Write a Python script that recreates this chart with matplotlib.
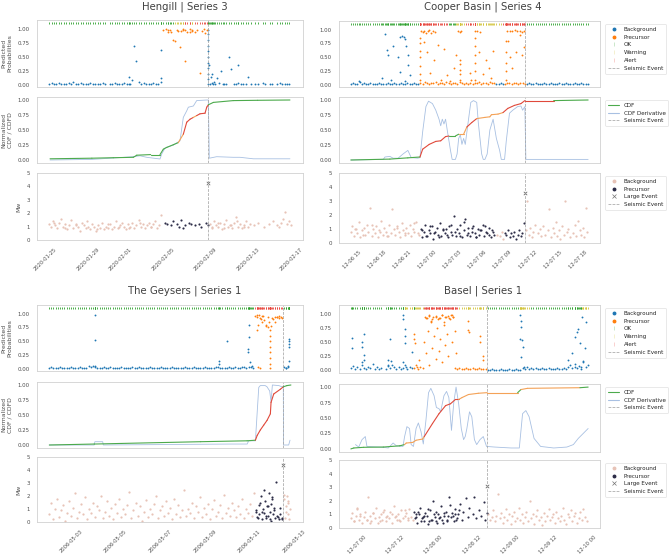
import numpy as np
import matplotlib
matplotlib.use("Agg")
import matplotlib.pyplot as plt
import matplotlib.dates as mdates
from matplotlib.lines import Line2D
import seaborn as sns

nan = np.nan

# ---------------- Hengill | Series 3  (offsets in days)
hen_origin = "2020-01-25T09:00"
hen_event = 14.89
hen_big = 4.25
hen_pre = [(10.6, 14.89)]
hen_state_t = [0, 11.8, 12.55, 13.3, 13.6, 14.89]
hen_state = ["OK", "Warning", "Alert", "Warning", "Alert", "OK"]
hen_prob_step = 0.227
hen_prob = [0.02, 0.03, 0.02, 0.02, 0.03, 0.02, 0.02, 0.02, 0.03, 0.02,
            0.06, 0.02, 0.02, 0.03, 0.02, 0.02, 0.02, 0.03, 0.02, 0.02,
            0.02, 0.02, 0.03, 0.02, nan, 0.02, 0.02, 0.03, 0.02, 0.02,
            0.02, 0.03, 0.02, 0.15, 0.09, 0.69, 0.42, 0.05, 0.02, 0.03,
            0.02, 0.02, 0.02, 0.03, 0.02, 0.02, 0.12, 0.98, 1.00, 0.95,
            0.97, 0.80, 0.78, 0.96, 0.67, 0.98, 0.43, 0.94, 0.99, 0.96,
            0.95, 0.98, 0.21, 0.96, 0.99, 0.97, 0.35, 0.20, 0.05, 0.12,
            0.03, 0.25, 0.02, 0.02, 0.49, 0.28, 0.02, 0.02, 0.03, 0.02,
            0.02, 0.02, 0.15, 0.02, nan, 0.02, 0.02, nan, 0.03, 0.02,
            nan, 0.02, 0.02, nan, 0.02, 0.03, 0.02, 0.02, 0.02, 0.02]
hen_out_t = [7.5, 7.6, 10.45, 10.5, 11.1, 11.4, 12.0, 12.3, 12.5, 12.7, 13.2, 13.4,
             14.6, 15.0, 15.1, 15.2, 15.35, 15.5, 16.3, 17.7]
hen_out_p = [0.02, 0.02, 0.05, 0.62, 0.97, 0.95, 0.98, 0.96, 0.99, 0.97, 0.95, 0.98,
             0.93, 0.02, 0.15, 0.03, 0.02, 0.02, 0.02, 0.36]
hen_col = [0.02, 0.1, 0.2, 0.3, 0.4, 0.5, 0.6, 0.7, 0.8, 0.9, 0.97]
hen_cdf_t = [0.09, 2.0, 4.0, 6.0, 7.88, 8.2, 9.5, 10.37, 10.68, 11.0, 11.62, 12.08, 12.55,
             12.87, 13.18, 13.49, 13.8, 14.11, 14.58, 14.74, 14.89, 15.36, 17.22, 19.5, 22.52]
hen_cdf = [0.02, 0.025, 0.03, 0.038, 0.045, 0.08, 0.09, 0.09, 0.18, 0.21, 0.255, 0.29, 0.43,
           0.63, 0.68, 0.71, 0.74, 0.77, 0.78, 0.88, 0.92, 0.96, 0.99, 0.995, 1.0]
hen_der_t = [0.09, 4.0, 7.88, 8.5, 9.13, 10.37, 10.53, 10.84, 11.62, 12.24, 12.55, 12.87,
             13.02, 13.49, 13.8, 14.74, 14.89, 14.98, 15.67, 17.22, 17.85, 19.1, 22.52]
hen_der = [0.0, 0.01, 0.055, 0.07, 0.045, 0.017, 0.1, 0.2, 0.25, 0.32, 0.71, 0.82,
           0.88, 0.9, 0.99, 1.0, 1.0, 0.03, 0.055, 0.045, 0.045, 0.02, 0.02]
hen_mw_step = 0.19
hen_mw = [1.2, 1.0, 1.4, 1.1, 0.9, 1.3, 1.6, 1.0, 1.2, 0.8,
          1.1, 1.5, 0.9, 1.2, 1.0, 0.7, 1.3, 1.1, 0.9, 1.0,
          0.8, 1.2, 1.0, 0.7, 1.1, 0.9, 1.3, 0.8, 1.0, 0.9,
          1.2, 0.8, 1.0, 1.4, 0.9, 1.1, 1.3, 1.0, 0.8, 1.2,
          1.0, 1.3, 0.9, 1.1, 1.5, 1.0, 1.2, 0.9, 1.1, 1.3,
          1.0, 1.2, 1.4, 0.9, 1.1,
          1.9, nan, 1.3, 1.2, nan, 1.1, 1.4, nan, 1.2, 1.0, 1.5, 0.9, 1.1, nan, 1.3, 1.2,
          nan, 1.1, nan, 1.2, 1.0, nan, 1.3, 1.1,
          1.2, 0.9, 1.4, 1.1, 1.0, 1.3, 0.8, 1.2, 1.5, 1.0, 1.1, 0.9, 1.3, 1.7, 1.0, 1.2,
          0.9, 1.1, 1.4, 1.0, 1.2,
          nan, 1.1, nan, 1.3, nan, nan, 1.0, nan, 1.2, nan, 1.4, nan, 1.1,
          1.0, 1.3, 1.6, 2.1, 1.2, 1.4, 1.1]
hen_mw_out_t = [0.5, 1.5, 2.5, 3.5, 4.5, 5.5, 6.5, 7.5, 8.5, 9.5, 15.2, 15.8, 16.4, 17.0, 17.6, 18.2]
hen_mw_out = [1.3, 0.9, 1.1, 1.4, 0.8, 1.2, 1.0, 0.9, 1.3, 1.0, 1.0, 1.3, 0.9, 1.1, 1.4, 1.0]

# ---------------- Cooper Basin | Series 4  (offsets in hours)
cb_origin = "2012-12-06T14:50"
cb_event = 20.85
cb_big = 3.6
cb_pre = [(8.2, 17.2), (18.3, 20.85)]
cb_state_t = [0, 8.27, 11.6, 12.6, 13.6, 15.0, 18.2, 20.85]
cb_state = ["OK", "Alert", "OK", "Warning", "Alert", "Warning", "Alert", "OK"]
cb_prob_step = 0.26
cb_prob = [0.02, 0.03, 0.02, 0.02, 0.05, 0.02, 0.03, 0.02, 0.02, 0.03, 0.02, 0.02, 0.02, 0.03,
           0.02, 0.02, 0.02, 0.03, 0.02, 0.02, 0.03, 0.02, 0.02, 0.03, 0.02, 0.02, 0.03, 0.02,
           0.02, 0.03, 0.02, 0.02,
           0.04, 0.02, 0.05, 0.03, 0.02, 0.04, 0.03, 0.05, 0.02, 0.03, 0.04, 0.02, 0.05, 0.03,
           0.02, 0.04, 0.03, 0.02, 0.05, 0.03,
           0.02, 0.03, 0.02, 0.04, 0.02, 0.03,
           0.03, 0.05, 0.02, 0.04, 0.03, 0.02, 0.05, 0.03, 0.04,
           0.02, 0.02, 0.03, 0.02, 0.02, 0.03,
           0.03, 0.02, 0.04, 0.03, 0.02, 0.03, 0.04, 0.02,
           0.02, 0.03, 0.02, 0.02, 0.03, 0.02, 0.02, 0.02, 0.03, 0.02, 0.02, 0.03, 0.02, 0.02,
           0.02, 0.03, 0.02, 0.02, 0.03, 0.02, 0.02, 0.02, 0.03, 0.02, 0.02, 0.03, 0.02, 0.02, 0.02]
cb_out_t = [0.94, 3.69, 4.08, 4.27, 4.47, 4.86, 5.06, 5.65, 5.84, 5.84, 6.12, 6.31, 6.51, 6.63,
            6.82, 6.82, 7.02, 6.43,
            8.3, 8.3, 8.3, 8.3, 8.3, 8.3, 8.3, 8.4, 8.6, 8.8, 9.0, 9.2, 9.4, 9.6, 9.8, 10.1,
            8.7, 9.1, 9.5, 9.9, 10.4, 10.8, 11.2, 11.5, 11.9, 12.3, 12.6, 12.8, 13.0, 13.2,
            13.0, 13.0, 13.0, 13.0, 13.0,
            14.9, 15.1, 15.4, 14.9, 14.9, 14.9, 14.9, 14.9, 14.9, 15.3, 15.8, 16.2, 16.5, 16.8,
            17.0, 14.2, 14.4,
            18.6, 18.6, 18.6, 18.6, 18.6, 18.7, 19.0, 19.3, 19.6, 19.9, 20.2, 20.5, 20.7, 18.8,
            19.0, 19.3, 19.8, 20.2, 20.5, 20.7]
cb_out_p = [0.08, 0.12, 0.92, 0.64, 0.54, 0.09, 0.71, 0.5, 0.86, 0.24, 0.89, 0.86, 0.83, 0.71,
            0.54, 0.36, 0.18, 0.07,
            0.1, 0.2, 0.35, 0.5, 0.62, 0.75, 0.85, 0.97, 0.95, 0.98, 0.93, 0.97, 0.99, 0.94, 0.97, 0.95,
            0.77, 0.6, 0.22, 0.45, 0.72, 0.1, 0.65, 0.18, 0.08, 0.3, 0.55, 0.98, 0.95, 0.97,
            0.1, 0.2, 0.28, 0.38, 0.45,
            0.97, 0.98, 0.96, 0.1, 0.25, 0.4, 0.55, 0.7, 0.85, 0.6, 0.2, 0.45, 0.3, 0.12,
            0.62, 0.22, 0.1,
            0.1, 0.25, 0.4, 0.6, 0.8, 0.97, 0.98, 0.97, 0.99, 0.97, 0.98, 0.96, 0.98, 0.8,
            0.5, 0.3, 0.6, 0.9, 0.55, 0.68]
cb_col = []
cb_cdf_t = [0.0, 4.67, 6.82, 8.27, 8.59, 9.37, 10.16, 10.75, 11.33, 11.73, 12.51, 12.9, 13.49,
            13.88, 14.47, 15.06, 16.04, 16.63, 16.82, 17.61, 18.2, 18.78, 19.57, 20.35, 20.82,
            24.27, 28.39]
cb_cdf = [0.0, 0.015, 0.036, 0.05, 0.18, 0.26, 0.31, 0.32, 0.39, 0.40, 0.40, 0.43, 0.43,
          0.55, 0.625, 0.69, 0.71, 0.72, 0.755, 0.765, 0.79, 0.86, 0.91, 0.94, 0.99,
          0.99, 1.0]
cb_der_t = [0.0, 3.88, 4.08, 4.67, 5.06, 5.65, 6.24, 6.82, 7.22, 8.0, 8.27, 8.59, 8.98, 9.29,
            9.76, 10.16, 10.55, 10.75, 10.94, 11.14, 11.33, 11.53, 11.92, 12.12, 12.51, 12.71,
            12.9, 13.1, 13.29, 13.49, 13.69, 14.08, 14.35, 14.67, 15.06, 15.25, 15.65, 15.84,
            16.04, 16.31, 16.63, 17.02, 17.41, 17.8, 18.0, 18.39, 18.59, 18.98, 19.37, 19.96,
            20.35, 20.55, 20.82, 20.94, 28.39]
cb_der = [0.0, 0.01, 0.05, 0.06, 0.03, 0.03, 0.10, 0.16, 0.04, 0.03, 0.04, 0.47, 0.89, 0.98,
          0.94, 0.83, 0.68, 0.57, 0.68, 0.60, 0.68, 0.50, 0.16, 0.01, 0.01, 0.10,
          0.36, 0.42, 0.26, 0.36, 0.26, 0.68, 0.96, 0.99, 0.96, 0.62, 0.10, 0.01,
          0.01, 0.10, 0.50, 0.68, 0.36, 0.16, 0.01, 0.01, 0.31, 0.78, 0.83, 0.89,
          0.90, 0.83, 0.89, 0.01, 0.01]
cb_mw_step = 0.19
cb_mw = [0.8, 1.2, 0.5, 1.0, 0.7, 1.5, 0.4, 0.9, 1.1, 0.6, 1.3, 0.8, 2.5, 0.5, 1.0, 0.7, 1.2,
         0.4, 0.9, 1.6, 0.6, 1.1, 0.8, 0.5, 1.3, 0.7, 2.4, 1.0, 0.6, 1.2, 0.8, 0.4, 1.4, 0.9,
         0.6, 1.1, 0.7, 1.3, 0.5, 1.0, 0.8, 1.5, 0.7,
         0.6, 1.0, 0.4, 0.8, 1.3, 0.5, 0.9, 0.7, 1.2, 0.3, 0.8, 1.1, 0.6, 1.4, 0.5, 0.9, 0.7,
         1.0, 0.4, 1.2, 0.8, 0.6, 1.9, 0.5, 1.0, 0.7, 1.3, 0.4, 0.9, 1.7, 0.6, 1.1, 0.5, 0.8,
         1.2, 0.7, 0.4, 1.0, 0.6, 0.9, 1.3, 0.5, 0.8, 0.7, 1.1, 0.4, 0.9, 0.6,
         nan, 0.6, nan,
         0.5, 0.8, 0.3, 0.7, 0.6, 0.9, 0.4, 0.7, 0.5, 0.8, 0.3, 0.6, 0.9, 0.5, 0.7,
         1.4, 0.9, 3.0, 0.6, 1.1, 0.4, 0.8, 1.3, nan, 0.7, 1.0, 0.5, 1.2, 0.6, nan, 0.9, 2.4,
         0.4, 1.1, 0.7, 1.5, 0.5, 0.9, 0.3, 1.2, 0.6, 3.0, 0.8, 1.0, 0.4, nan, 0.7, 1.3, 0.5,
         1.6, 0.9, 0.6, 1.1, 0.4, 2.5, 0.8]
cb_mw_out_t = [8.5, 9.0, 9.5, 10.0, 10.5, 11.0, 11.5, 12.0, 12.5, 13.0, 13.5, 14.0, 14.5, 15.0,
               15.5, 16.0, 16.5, 17.0, 0.5, 1.5, 2.5, 3.5, 4.5, 5.5, 6.5, 7.5]
cb_mw_out = [0.9, 0.5, 1.2, 0.7, 0.4, 1.0, 0.6, 1.3, 0.8, 0.5, 1.5, 0.7, 1.1, 0.4,
             0.9, 1.2, 0.6, 0.8, 1.0, 0.6, 1.3, 0.8, 0.5, 1.1, 0.7, 1.4]

# ---------------- The Geysers | Series 1  (offsets in days)
gy_origin = "2006-05-02T00:30"
gy_event = 10.49
gy_big = 4.4
gy_pre = [(9.2, 10.49)]
gy_state_t = [0, 9.2, 10.49]
gy_state = ["OK", "Alert", "OK"]
gy_prob_step = 0.0982
gy_prob = [0.02, 0.03, 0.02, 0.02, 0.02, 0.03, 0.02, 0.02, 0.02, 0.02,
           0.03, 0.02, 0.02, 0.02, 0.03, 0.02, 0.02, 0.02, 0.06, 0.04,
           0.05, 0.03, 0.02, 0.02, 0.02, 0.03, 0.02, 0.02, 0.03, 0.02,
           0.02, 0.02, 0.02, 0.03, 0.02, 0.02, 0.02, 0.02, 0.03, 0.02,
           0.02, 0.03, 0.02, 0.02, 0.02, 0.02, 0.03, 0.02, 0.02, 0.02,
           0.02, 0.03, 0.02, 0.02, 0.02, 0.02, 0.03, 0.02, 0.02, 0.02,
           0.02, 0.02, 0.03, 0.02, 0.02, 0.02, 0.03, 0.02, 0.02, 0.02,
           0.02, 0.03, 0.02, 0.02, 0.02, 0.02, 0.03, 0.04, 0.02, 0.02,
           0.02, 0.02, 0.03, 0.02, 0.02, 0.03, 0.02, 0.02, 0.04, 0.03,
           0.02, 0.03, 0.04, 0.02,
           0.95, 0.97, 0.92, 0.96, 0.88, 0.80, 0.93, 0.78, 0.90, 0.85, 0.93, 0.95, 0.92,
           0.03, 0.02, 0.05]
gy_out_t = [2.05, 2.05, 2.05, 7.6, 7.6, 7.98, 8.94, 8.94, 8.92, 8.92, 9.01, 9.09,
            9.3, 9.4, 9.5, 9.6, 9.35, 9.3, 9.55, 9.7, 9.8, 9.85, 9.9, 9.91, 9.91, 9.91, 9.91,
            9.91, 9.91, 9.91, 9.98, 10.1, 10.2, 10.3, 10.4, 9.35, 9.45,
            10.76, 10.76, 10.76, 10.76, 10.76, 10.6, 10.7]
gy_out_p = [0.97, 0.53, 0.06, 0.15, 0.1, 0.5, 0.79, 0.58, 0.36, 0.3, 0.12, 0.05,
            0.93, 0.97, 0.9, 0.95, 0.8, 0.7, 0.85, 0.78, 0.75, 0.85, 0.7, 0.02, 0.1, 0.2, 0.3,
            0.4, 0.5, 0.6, 0.92, 0.93, 0.93, 0.92, 0.93, 0.03, 0.02,
            0.4, 0.45, 0.5, 0.55, 0.15, 0.02, 0.04]
gy_col = []
gy_cdf_t = [0.01, 2.02, 6.79, 8.87, 9.24, 9.32, 9.46, 9.61, 9.76, 9.91, 9.94, 10.06, 10.36,
            10.49, 10.65, 10.83]
gy_cdf = [0.0, 0.016, 0.055, 0.07, 0.08, 0.16, 0.25, 0.33, 0.41, 0.52, 0.71, 0.85, 0.93,
          0.97, 0.99, 1.0]
gy_der_t = [0.01, 2.02, 2.05, 2.4, 2.43, 8.13, 8.87, 8.94, 9.24, 9.39, 9.46, 9.68, 9.76, 9.88,
            9.94, 10.0, 10.29, 10.43, 10.49, 10.5, 10.73, 10.79]
gy_der = [0.0, 0.0, 0.055, 0.055, 0.0, 0.016, 0.016, 0.07, 0.07, 0.96, 0.99, 0.99, 0.97, 0.9,
          0.72, 1.0, 0.99, 0.97, 0.97, 0.0, 0.0, 0.08]
gy_mw_step = 0.09
gy_mw = [0.6, 1.5, 0.2, 1.0, 1.8, 0.4, 0.9, 1.3, 0.1, 0.7,
         1.6, 0.5, 1.1, 2.2, 0.3, 0.8, 1.4, 0.6, 1.9, 0.2,
         1.0, 0.7, 1.5, 0.4, 1.2, 0.9, 2.0, 0.3, 0.8, 1.6,
         0.5, 1.1, 0.2, 1.4, 0.7, 1.8, 0.4, 1.0, 0.6, 1.3,
         2.3, 0.3, 0.9, 1.5, 0.5, 1.2, 0.1, 0.8, 1.7, 0.4,
         1.0, 0.6, 1.4, 2.0, 0.3, 0.9, 1.2, 0.5, 1.6, 0.7,
         1.1, 0.2, 1.8, 0.6, 1.3, 0.4, 0.9, 2.5, 0.5, 1.0,
         0.7, 1.5, 0.3, 1.2, 0.8, 1.9, 0.4, 1.1, 0.6, 1.4,
         0.2, 1.0, 1.7, 0.5, 0.8, 1.3, 0.3, 2.1, 0.7, 1.1,
         0.5, 1.5, 0.9, 0.4, 1.2, 0.6, 1.8, 0.3, 1.0, 0.7,
         1.4, 0.5, 2.2, 0.8,
         0.3, 1.5, 0.8, 2.5, 0.5, 1.2, 0.2, 1.8, 0.9, 3.1, 0.4, 1.1, 0.2,
         2.1, 0.8, 1.5]
gy_mw_out_t = [9.28, 9.33, 9.38, 9.42, 9.47, 9.52, 9.56, 9.61, 9.65, 9.7, 9.74, 9.79, 9.83, 9.88,
               9.92, 9.95, 9.98, 10.02, 10.06, 10.12, 10.2, 10.28, 10.35, 10.42,
               10.52, 10.56, 10.6, 10.64, 10.68, 10.72, 10.76, 10.8]
gy_mw_out = [0.9, 0.4, 1.3, 0.6, 2.0, 0.2, 1.0, 0.7, 1.6, 0.3, 1.2, 0.5, 2.2, 0.8,
             1.4, 0.1, 1.9, 0.6, 1.1, 0.3, 0.5, 0.2, 0.6, 0.3,
             1.8, 0.3, 1.2, 2.0, 0.6, 1.6, 0.2, 1.0]

# ---------------- Basel | Series 1  (offsets in hours)
bs_origin = "2006-12-06T22:10"
bs_event = 42.7
bs_big = 3.1
bs_pre = [(19.4, 42.7)]
bs_state_t = [0, 16.5, 19.4, 20.2, 22.7, 33.5, 42.7, 52.7, 55.8, 72.2]
bs_state = ["OK", "Warning", "OK", "Warning", "Alert", "Warning", "OK", "Warning", "OK", "Warning"]
bs_prob_step = 0.68
bs_prob = [0.04, 0.08, 0.02, 0.06, 0.03, 0.1, 0.05, 0.02, 0.07, 0.04, 0.12, 0.03, 0.06, 0.02,
           0.05, nan, 0.03, 0.08, 0.04, 0.1, 0.06, 0.03, 0.07, 0.02, 0.05, 0.09, 0.03, 0.06, 0.04,
           0.05, 0.1, 0.03, 0.07, 0.04,
           0.95, 0.92, 0.97, 0.88, 0.94, 0.96, 0.9, 0.93, 0.97, 0.86, 0.95, 0.92, 0.97, 0.94,
           0.04, 0.02, 0.05, 0.03, 0.02, 0.04, 0.03, 0.02, 0.05, 0.03, 0.02, 0.04, 0.02, 0.03, 0.02,
           0.01, 0.01, 0.02, 0.01, 0.01, 0.01, 0.02, 0.01, 0.01, 0.01, 0.02, 0.01, 0.01, 0.02,
           0.01, 0.01,
           0.05, 0.03, 0.06, 0.02, 0.04, 0.03, 0.05, 0.02, 0.03, 0.04, 0.02, 0.03, 0.05, 0.02,
           0.03, 0.02, 0.04, 0.03, 0.02, 0.05, 0.03,
           0.06, 0.1, 0.04, 0.12, 0.05, 0.08, 0.03, 0.15, 0.06, 0.1]
bs_out_t = [0.4, 0.4, 3.5, 3.5, 3.5, 4.0, 4.0, 4.0, 11.7, 11.7, 12.2, 12.7, 16.3, 16.3, 16.3,
            16.8, 16.8, 16.8, 17.3, 19.2,
            19.9, 19.9, 20.2, 20.6, 21.4,
            23.0, 23.5, 24.0, 24.5, 25.0, 25.5, 26.0, 26.5, 27.0, 27.5, 28.0, 28.5, 29.0, 29.5,
            30.0, 30.5, 31.0, 31.5, 32.0, 32.5, 33.0,
            23.5, 24.5, 25.5, 26.5, 27.5, 28.5, 29.5, 30.5, 31.5,
            36.8, 36.8, 37.0, 40.3, 40.3, 41.3, 41.3,
            53.0, 53.2, 53.4, 52.8, 53.6, 53.9, 53.3, 54.1,
            68.1, 69.1, 70.2, 70.7, 71.2, 71.7, 72.2, 72.7, 73.2, 73.7, 72.0, 70.0]
bs_out_p = [0.39, 0.58, 0.5, 0.42, 0.15, 0.65, 0.19, 0.28, 0.19, 0.1, 0.56, 0.17, 0.97, 0.9, 0.15,
            0.74, 0.48, 0.6, 0.07, 0.33,
            0.65, 0.55, 0.48, 0.07, 0.19,
            0.5, 0.3, 0.7, 0.1, 0.85, 0.4, 0.6, 0.2, 0.75, 0.35, 0.55, 0.15, 0.8, 0.45,
            0.65, 0.25, 0.9, 0.5, 0.95, 0.7, 0.3,
            0.93, 0.96, 0.9, 0.95, 0.92, 0.97, 0.94, 0.96, 0.97,
            0.88, 0.71, 0.68, 0.6, 0.5, 0.25, 0.18,
            0.97, 0.88, 0.77, 0.56, 0.53, 0.42, 0.24, 0.07,
            0.19, 0.3, 0.59, 0.68, 0.74, 0.48, 0.94, 0.17, 0.4, 0.85, 0.07, 0.07]
bs_col = []
bs_cdf_t = [0.0, 0.92, 4.0, 10.15, 15.3, 16.8, 17.33, 19.38, 20.4, 22.46, 22.97, 25.54, 27.59,
            29.64, 31.18, 32.72, 33.74, 34.77, 36.82, 39.9, 42.67, 52.2, 53.23, 55.28, 71.69, 74.26]
bs_cdf = [0.0, 0.015, 0.026, 0.03, 0.05, 0.07, 0.095, 0.105, 0.14, 0.16, 0.2, 0.41, 0.57,
          0.7, 0.73, 0.8, 0.8, 0.83, 0.88, 0.9, 0.91, 0.91, 0.96, 0.98, 0.99, 1.0]
bs_der_t = [1.44, 2.46, 3.49, 4.51, 5.03, 10.15, 11.69, 13.23, 14.26, 16.31, 16.82, 17.54, 18.36,
            18.87, 19.59, 20.41, 21.13, 21.95, 22.67, 23.49, 24.31, 25.03, 26.05, 26.77, 27.59,
            28.1, 29.13, 29.95, 30.67, 31.49, 32.21, 32.92, 33.74, 34.56, 35.28, 35.79, 36.31,
            37.13, 37.85, 38.67, 39.38, 40.41, 41.44, 42.46, 45.03, 50.15, 52.72, 53.74, 54.77,
            55.79, 57.33, 59.38, 63.49, 67.59, 69.64, 71.18, 72.72, 74.26]
bs_der = [0.07, 0.03, 0.15, 0.2, 0.04, 0.026, 0.015, 0.095, 0.05, 0.04, 0.2, 0.36, 0.33,
          0.07, 0.04, 0.33, 0.42, 0.28, 0.08, 0.46, 0.91, 0.98, 0.86, 0.67, 0.65,
          0.6, 0.86, 0.93, 0.83, 0.3, 0.75, 1.0, 0.73, 0.33, 0.15, 0.2, 0.33,
          0.6, 0.52, 0.15, 0.07, 0.15, 0.2, 0.04, 0.03, 0.015, 0.015, 0.57, 0.62,
          0.52, 0.17, 0.04, 0.015, 0.03, 0.07, 0.17, 0.25, 0.33]
bs_mw_step = 0.495
bs_mw = [0.7, 1.1, 0.5, 0.9, 1.4, 0.6, 1.0, 0.4, 0.8, 1.2, 0.6, 2.3, 0.9, 0.5, 1.1, 0.7, 1.5,
         0.4, 0.8, 1.0, 0.6, 1.3, 0.5, 0.9, 0.7, 1.2, 0.4, 1.6, 0.8, 0.6, 1.0, 0.5, 1.3, 0.7,
         0.9, 1.1, 0.6, 1.4, 0.8,
         0.6, 1.2, 0.8, 0.4, 1.0, 1.5, 0.7, 0.5, 1.1, 0.9, 0.3, 1.3, 0.6, 2.0, 0.8, 0.5, 1.0,
         0.7, 1.6, 0.4, 0.9, 1.2, 0.6, 2.3, 0.8, 1.1, 0.5, 1.4, 0.7, 1.0, 1.8, 0.6, 1.2, nan,
         2.2, 0.8, 1.5, nan, 1.0, 2.3, 0.7, nan, 1.3, 0.9, nan, 1.9, 0.6, 1.1,
         1.0, 0.6, 0.8, 1.3, 0.5, 0.9, 2.5, 0.7, 1.1, 0.4, 0.8, 1.4, 0.6, 1.0, 0.3, 0.9, 1.2,
         0.5, 0.7, 1.5, 0.6, 1.0, 0.4, 0.8, 1.2, 0.5, 2.0, 0.7, 1.0, 0.3, 0.9, 1.3, 0.6, 0.8,
         0.2, 1.1, 0.5, 0.9, 1.4, 0.6, 0.8, 1.0, 0.4, 1.2, 0.7, 0.5, 0.9, 1.5, 0.6, 0.3, 1.0,
         0.8, 1.3, 0.5, 0.9, 1.1, 0.4, 0.7, 1.2, 0.6, 1.4, 0.8, 0.5]
bs_mw_out_t = [20.0, 21.0, 22.0, 23.0, 24.0, 25.0, 26.0, 27.0, 28.0, 29.0, 30.0, 31.0, 32.0,
               33.0, 34.0, 20.5, 22.5, 24.5, 26.5, 28.5, 30.5, 32.5,
               1.0, 3.0, 5.0, 7.0, 9.0, 11.0, 13.0, 15.0, 17.0, 2.0, 6.0, 10.0, 14.0, 18.0]
bs_mw_out = [0.7, 1.2, 0.5, 0.9, 1.4, 0.6, 1.0, 0.4, 0.8, 1.1, 0.5, 1.7, 0.9,
             0.6, 1.3, 1.0, 0.8, 0.5, 1.2, 0.6, 0.9, 1.0,
             0.5, 0.9, 0.6, 1.1, 0.5, 0.8, 1.0, 0.6, 1.3, 1.5, 0.4, 1.2, 0.9, 0.7]

# ---------------- style
BLUE, ORANGE = "#1f77b4", "#ff7f0e"
STRIP = {"OK": "#2ca02c", "Warning": "#d2c43a", "Alert": "#e8453c"}
CDF_COL = {"OK": "#4caa4c", "Warning": "#f4a257", "Alert": "#e0493b"}
DERIV = "#a8c0e2"
PINK, DARK = "#e7c3b7", "#2d2d48"
EVENT = dict(color="0.65", ls="--", lw=0.55)

sns.set_style("white")
plt.rcParams.update({
    "font.family": ["DejaVu Sans"],
    "axes.edgecolor": "0.82", "axes.linewidth": 0.6,
    "xtick.labelsize": 3.7, "ytick.labelsize": 3.9, "axes.labelsize": 4.4,
    "xtick.major.pad": 1.2, "ytick.major.pad": 1.5,
    "xtick.color": "0.3", "ytick.color": "0.3", "axes.labelcolor": "0.3",
})

W, H = 669, 554
fig = plt.figure(figsize=(W / 100, H / 100), dpi=100)


def box(x0, x1, y0, y1):
    return [x0 / W, 1 - y1 / H, (x1 - x0) / W, (y1 - y0) / H]


def to_dt(origin, off, unit):
    sec = np.asarray(off, dtype=float) * (86400.0 if unit == "D" else 3600.0)
    return np.datetime64(origin) + np.round(sec).astype("timedelta64[s]")


def in_windows(off, windows):
    m = np.zeros(len(off), bool)
    for a, b in windows:
        m |= (off >= a) & (off < b)
    return m


def state_at(off, st_t, st):
    idx = np.searchsorted(st_t, off, side="right") - 1
    return np.asarray(st)[np.clip(idx, 0, len(st) - 1)]


def draw_site(cols, rows, title, tx, ty, origin, unit, event, big, pre, st_t, st,
              prob, prob_step, out_t, out_p, col, cdf_t, cdf, der_t, der,
              mw, mw_step, mw_out_t, mw_out, locator, fmt, legend, ylabels):
    ax1 = fig.add_axes(box(*cols, *rows[0]))
    ax2 = fig.add_axes(box(*cols, *rows[1]), sharex=ax1)
    ax3 = fig.add_axes(box(*cols, *rows[2]), sharex=ax1)
    ev = to_dt(origin, [event], unit)[0]

    # predicted probabilities + alert strip
    g = np.arange(len(prob)) * prob_step
    t = np.concatenate([g, out_t, np.full(len(col), event)])
    p = np.concatenate([prob, out_p, col])
    keep = ~np.isnan(p)
    t, p = t[keep], p[keep]
    m = in_windows(t, pre)
    ax1.scatter(to_dt(origin, t[~m], unit), p[~m], s=1.8, color=BLUE, lw=0)
    ax1.scatter(to_dt(origin, t[m], unit), p[m], s=1.8, color=ORANGE, lw=0)
    s = state_at(t, st_t, st)
    for k in ("OK", "Warning", "Alert"):
        sel = t[s == k]
        ax1.scatter(to_dt(origin, sel, unit), np.full(len(sel), 1.1), marker="|",
                    s=2.5, linewidths=0.6, color=STRIP[k])
    ax1.axvline(ev, **EVENT)
    ax1.set_yticks([0, 0.25, 0.5, 0.75, 1.0])

    # CDF and derivative
    ax2.plot(to_dt(origin, der_t, unit), der, color=DERIV, lw=0.6, zorder=2)
    ct = to_dt(origin, cdf_t, unit)
    cs = state_at(cdf_t, st_t, st)
    for i in range(len(cdf) - 1):
        ax2.plot(ct[i:i + 2], cdf[i:i + 2], color=CDF_COL[cs[i]], lw=0.8, zorder=3)
    ax2.axvline(ev, **EVENT)
    ax2.set_yticks([0, 0.25, 0.5, 0.75, 1.0])

    # magnitudes
    tm = np.concatenate([np.arange(len(mw)) * mw_step, mw_out_t])
    vm = np.concatenate([mw, mw_out])
    keep = ~np.isnan(vm)
    tm, vm = tm[keep], vm[keep]
    m = in_windows(tm, pre)
    ax3.scatter(to_dt(origin, tm[~m], unit), vm[~m], s=2.6, color=PINK, lw=0)
    ax3.scatter(to_dt(origin, tm[m], unit), vm[m], s=2.4, color=DARK, lw=0)
    ax3.scatter([ev], [big], marker="x", s=6, linewidths=0.5, color="0.35")
    ax3.axvline(ev, **EVENT)
    ax3.set_ylim(0, 5)
    ax3.set_yticks(range(6))

    ax3.xaxis.set_major_locator(locator)
    ax3.xaxis.set_major_formatter(mdates.DateFormatter(fmt))
    ax1.tick_params(labelbottom=False)
    ax2.tick_params(labelbottom=False)
    ax3.tick_params(axis="x", labelrotation=45)

    fig.text(tx / W, 1 - ty / H, title, ha="center", va="center", fontsize=7.3, color="0.25")

    if ylabels:
        ax1.set_ylabel("Predicted\nProbabilities")
        ax2.set_ylabel("Normalized\nCDF / CDFD")
        ax3.set_ylabel("Mw")

    if legend:
        lg = dict(loc="upper left", bbox_to_anchor=(1.01, 1.0), fontsize=4.1,
                  frameon=True, edgecolor="0.85", borderpad=0.5, handlelength=1.9)
        ev_h = Line2D([], [], label="Seismic Event", **EVENT)
        h1 = [Line2D([], [], ls="", marker="o", ms=1.8, color=BLUE, label="Background"),
              Line2D([], [], ls="", marker="o", ms=1.8, color=ORANGE, label="Precursor")]
        h1 += [Line2D([], [], ls="", marker="|", ms=3, mew=0.5, color=STRIP[k], alpha=0.35,
                      label=k) for k in ("OK", "Warning", "Alert")]
        h2 = [Line2D([], [], color=CDF_COL["OK"], lw=0.8, label="CDF"),
              Line2D([], [], color=DERIV, lw=0.8, label="CDF Derivative")]
        h3 = [Line2D([], [], ls="", marker="o", ms=1.8, color=PINK, label="Background"),
              Line2D([], [], ls="", marker="o", ms=1.8, color=DARK, label="Precursor"),
              Line2D([], [], ls="", marker="x", ms=2.2, mew=0.5, color="0.45", label="Large Event")]
        for ax, hs in ((ax1, h1 + [ev_h]), (ax2, h2 + [ev_h]), (ax3, h3 + [ev_h])):
            leg = ax.legend(handles=hs, **lg)
            leg.get_frame().set_linewidth(0.5)


draw_site((37, 303), [(20, 87), (97, 163), (173, 240)], "Hengill | Series 3", 185, 6.5,
          hen_origin, "D", hen_event, hen_big, hen_pre, hen_state_t, hen_state,
          hen_prob, hen_prob_step, hen_out_t, hen_out_p, hen_col, hen_cdf_t, hen_cdf,
          hen_der_t, hen_der, hen_mw, hen_mw_step, hen_mw_out_t, hen_mw_out,
          mdates.DayLocator(bymonthday=[1, 5, 9, 13, 17, 21, 25, 29]), "%Y-%m-%d", False, True)
draw_site((339, 600), [(21, 87), (97, 163), (173, 243)], "Cooper Basin | Series 4", 483, 6.5,
          cb_origin, "h", cb_event, cb_big, cb_pre, cb_state_t, cb_state,
          cb_prob, cb_prob_step, cb_out_t, cb_out_p, cb_col, cb_cdf_t, cb_cdf,
          cb_der_t, cb_der, cb_mw, cb_mw_step, cb_mw_out_t, cb_mw_out,
          mdates.HourLocator(byhour=range(0, 24, 3)), "%m-%d %H", True, False)
draw_site((37, 303), [(305, 371), (382, 448), (457, 522)], "The Geysers | Series 1", 185, 291,
          gy_origin, "D", gy_event, gy_big, gy_pre, gy_state_t, gy_state,
          gy_prob, gy_prob_step, gy_out_t, gy_out_p, gy_col, gy_cdf_t, gy_cdf,
          gy_der_t, gy_der, gy_mw, gy_mw_step, gy_mw_out_t, gy_mw_out,
          mdates.DayLocator(bymonthday=range(1, 32, 2)), "%Y-%m-%d", False, True)
draw_site((339, 600), [(305, 373), (384, 452), (460, 528)], "Basel | Series 1", 483, 291,
          bs_origin, "h", bs_event, bs_big, bs_pre, bs_state_t, bs_state,
          bs_prob, bs_prob_step, bs_out_t, bs_out_p, bs_col, bs_cdf_t, bs_cdf,
          bs_der_t, bs_der, bs_mw, bs_mw_step, bs_mw_out_t, bs_mw_out,
          mdates.HourLocator(byhour=[0, 12]), "%m-%d %H", True, False)

fig.savefig("out.png", dpi=100)
